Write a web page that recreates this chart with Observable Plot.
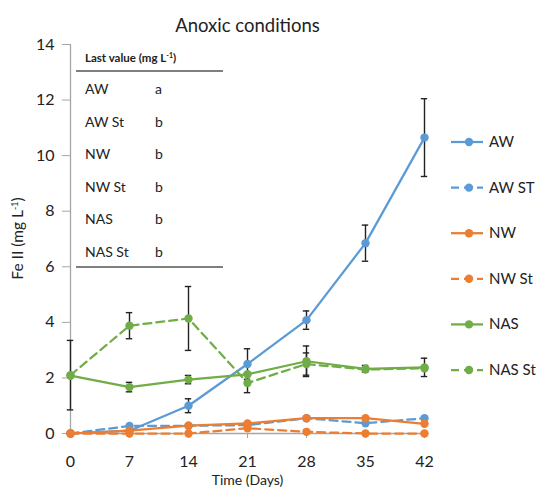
<!DOCTYPE html>
<html><head><meta charset="utf-8">
<script src="https://cdn.jsdelivr.net/npm/d3@7"></script>
<script src="https://cdn.jsdelivr.net/npm/@observablehq/plot@0.6"></script>
<style>body{margin:0;background:#fff;} svg{display:block;}</style>
</head><body><div id="chart"></div>
<script>
const days = [0, 7, 14, 21, 28, 35, 42];
const yTicks = [0, 2, 4, 6, 8, 10, 12, 14];
const seriesNames = ["AW", "AW ST", "NW", "NW St", "NAS", "NAS St"];
const seriesColors = ["#5B9BD5", "#5B9BD5", "#ED7D31", "#ED7D31", "#70AD47", "#70AD47"];
const seriesDashed = [false, true, false, true, false, true];
const awValues    = [0, 0.1, 1.0, 2.5, 4.08, 6.85, 10.65];
const awStValues  = [0, 0.27, 0.28, 0.3, 0.55, 0.37, 0.55];
const nwValues    = [0, 0.1, 0.28, 0.36, 0.55, 0.55, 0.35];
const nwStValues  = [0, 0, 0, 0.19, 0.06, 0, 0];
const nasValues   = [2.08, 1.67, 1.94, 2.13, 2.6, 2.33, 2.38];
const nasStValues = [2.1, 3.88, 4.14, 1.82, 2.5, 2.3, 2.35];
const awErr    = [null, null, 0.25, 0.55, 0.33, 0.65, 1.4];
const awStErr  = [null, null, null, null, null, null, null];
const nwErr    = [null, null, null, null, null, null, null];
const nwStErr  = [null, null, null, null, null, null, null];
const nasErr   = [null, 0.17, 0.15, null, 0.55, 0.12, 0.33];
const nasStErr = [1.25, 0.47, 1.15, 0.35, 0.4, null, null];
const tableHeader = "Last value (mg L";
const tableNames = ["AW", "AW St", "NW", "NW St", "NAS", "NAS St"];
const tableLetters = ["a", "b", "b", "b", "b", "b"];
const titleText = "Anoxic conditions";
const xLabel = "Time (Days)";
const yLabel = "Fe II (mg L";

const allValues = [awValues, awStValues, nwValues, nwStValues, nasValues, nasStValues];
const allErr = [awErr, awStErr, nwErr, nwStErr, nasErr, nasStErr];
const rows = [];
seriesNames.forEach((s, si) => days.forEach((d, i) => rows.push({
  series: s, si, day: d, value: allValues[si][i], err: allErr[si][i]
})));
const errRows = rows.filter(r => r.err != null);

const font = "Lato, 'Open Sans', sans-serif";

function annotations(index, scales, values, dim) {
  const g = d3.create("svg:g").attr("font-family", font).attr("fill", "#222").attr("text-anchor", "start");
  const left = dim.marginLeft, top = dim.marginTop;
  // table inset
  const tx = left + 15, lineX1 = left + 6, lineX2 = left + 153;
  const h = g.append("text").attr("x", tx).attr("y", top + 18).attr("font-size", 11.5).attr("font-weight", "bold");
  h.append("tspan").text(tableHeader);
  h.append("tspan").attr("baseline-shift", "super").attr("font-size", 7).text("-1");
  h.append("tspan").text(")");
  g.append("line").attr("x1", lineX1).attr("x2", lineX2).attr("y1", top + 27).attr("y2", top + 27)
    .attr("stroke", "#7f7f7f").attr("stroke-width", 2);
  tableNames.forEach((n, i) => {
    const y = top + 45 + i * 32.6 + 5;
    g.append("text").attr("x", tx).attr("y", y).attr("font-size", 14).text(n);
    g.append("text").attr("x", left + 85).attr("y", y).attr("font-size", 14).text(tableLetters[i]);
  });
  g.append("line").attr("x1", lineX1).attr("x2", lineX2).attr("y1", top + 223).attr("y2", top + 223)
    .attr("stroke", "#7f7f7f").attr("stroke-width", 2);
  // legend
  const lx = dim.width - dim.marginRight + 27;
  seriesNames.forEach((n, i) => {
    const y = top + 98 + i * 45.6;
    g.append("line").attr("x1", lx).attr("x2", lx + 32).attr("y1", y).attr("y2", y)
      .attr("stroke", seriesColors[i]).attr("stroke-width", 2.25)
      .attr("stroke-dasharray", seriesDashed[i] ? "8,5" : null);
    g.append("circle").attr("cx", lx + 18).attr("cy", y).attr("r", 4.2).attr("fill", seriesColors[i]);
    g.append("text").attr("x", lx + 38).attr("y", y + 5).attr("font-size", 15).text(n);
  });
  // y label
  const yl = g.append("text").attr("transform", `translate(23,${top + (dim.height - top - dim.marginBottom) / 2}) rotate(-90)`)
    .attr("text-anchor", "middle").attr("font-size", 15.5);
  yl.append("tspan").text(yLabel);
  yl.append("tspan").attr("baseline-shift", "super").attr("font-size", 9).text("-1");
  yl.append("tspan").text(")");
  return g.node();
}

const marks = [
  Plot.ruleY([0], {stroke: "#A6A6A6", strokeWidth: 1.3}),
  Plot.ruleX([0], {stroke: "#A6A6A6", strokeWidth: 1.3}),
  Plot.axisY({ticks: yTicks, tickSize: 8, tickPadding: 8, stroke: "#A6A6A6", fill: "#222", fontSize: 16, label: null}),
  Plot.axisX({ticks: days, tickSize: 5, tickPadding: 17, stroke: "#A6A6A6", fill: "#222", fontSize: 16, label: null}),
];
seriesNames.forEach((s, si) => {
  marks.push(Plot.line(rows.filter(r => r.si === si), {
    x: "day", y: "value", stroke: seriesColors[si], strokeWidth: 2.25,
    strokeDasharray: seriesDashed[si] ? "8,5" : null
  }));
});
marks.push(
  Plot.ruleX(errRows, {x: "day", y1: d => d.value - d.err, y2: d => d.value + d.err, stroke: "#222", strokeWidth: 1.4}),
  Plot.ruleY(errRows, {y: d => d.value - d.err, x1: d => d.day - 0.38, x2: d => d.day + 0.38, stroke: "#222", strokeWidth: 1.4}),
  Plot.ruleY(errRows, {y: d => d.value + d.err, x1: d => d.day - 0.38, x2: d => d.day + 0.38, stroke: "#222", strokeWidth: 1.4})
);
seriesNames.forEach((s, si) => {
  marks.push(Plot.dot(rows.filter(r => r.si === si), {x: "day", y: "value", r: 4.2, fill: seriesColors[si]}));
});
marks.push(
  Plot.text([titleText], {text: d => d, frameAnchor: "top", dy: -26, fontSize: 18.5, fill: "#222"}),
  Plot.text([xLabel], {text: d => d, frameAnchor: "bottom", dy: 51, fontSize: 14, fill: "#222"}),
  annotations
);

const chart = Plot.plot({
  width: 542, height: 490,
  marginLeft: 70, marginRight: 118, marginTop: 44, marginBottom: 57,
  style: {fontFamily: font, fontSize: "15px", background: "#fff", color: "#222"},
  x: {domain: [0, 42]},
  y: {domain: [0, 14]},
  marks
});
document.getElementById("chart").appendChild(chart);
</script>
</body></html>
